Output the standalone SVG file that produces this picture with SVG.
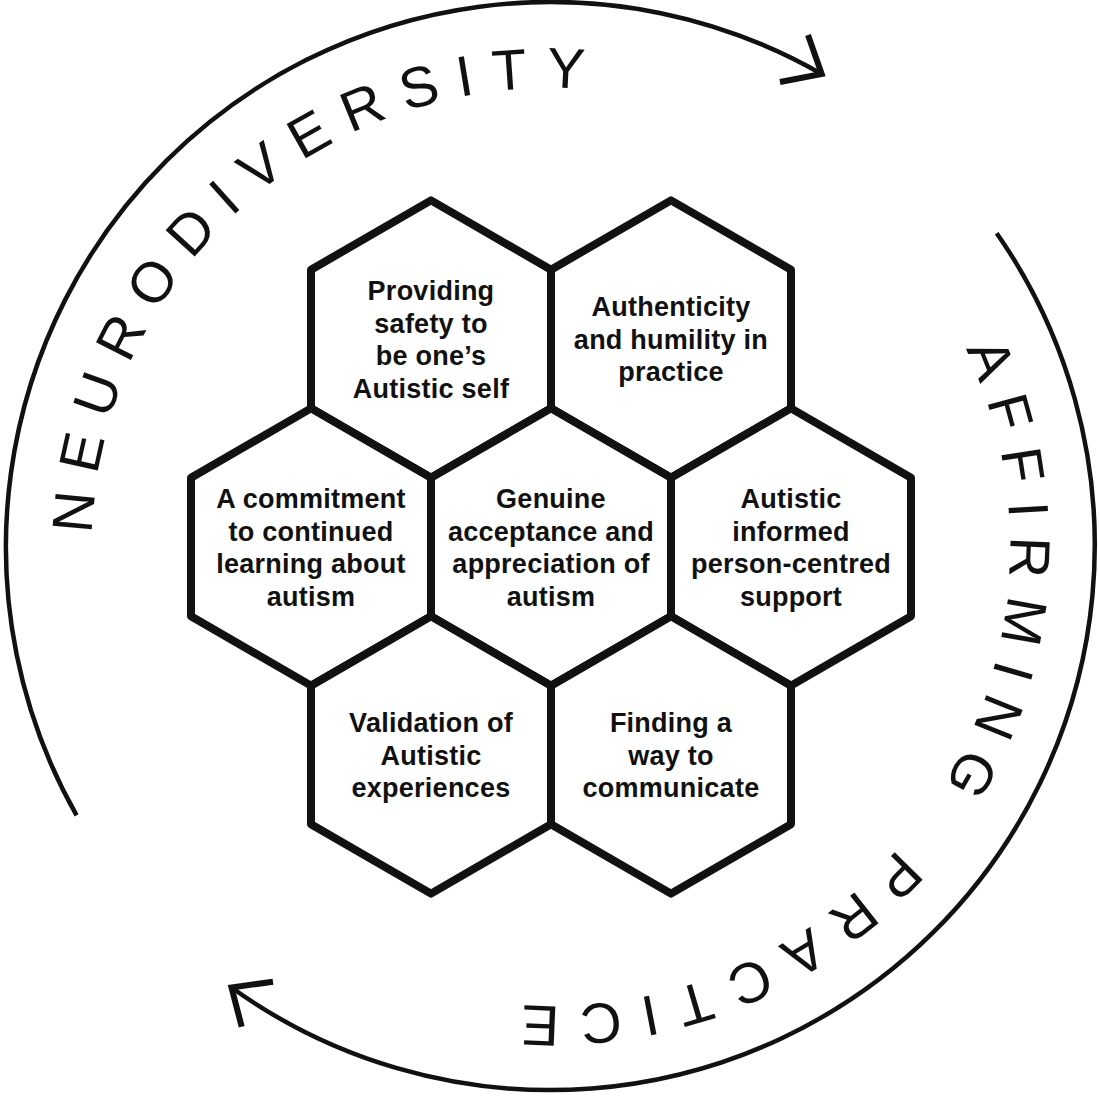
<svg xmlns="http://www.w3.org/2000/svg" xmlns:xlink="http://www.w3.org/1999/xlink" width="1100" height="1100" viewBox="0 0 1100 1100">
  <style>
    .hex { fill: #ffffff; stroke: #111111; stroke-width: 8; stroke-linejoin: round; }
    .ht { font-family: "Liberation Sans", Arial, sans-serif; font-weight: bold; font-size: 27px; letter-spacing: 0.25px; fill: #111111; text-anchor: middle; }
    .ring { font-family: "Liberation Sans", Arial, sans-serif; font-size: 57px; fill: #111111; }
    .arc { fill: none; stroke: #111111; stroke-width: 4.5; stroke-linecap: butt; }
    .head { fill: none; stroke: #111111; stroke-width: 6; stroke-linejoin: miter; stroke-linecap: butt; }
  </style>
  <defs>
    <path id="ringPath" d="M 226.4 871.6 A 459 459 0 1 1 875.6 222.4 A 459 459 0 1 1 226.4 871.6"/>
  </defs>
  <rect x="0" y="0" width="1100" height="1100" fill="#ffffff"/>

  <g id="connectors">
    <path class="arc" d="M 76.6 815.4 A 545 545 0 0 1 821.7 74.0"/>
    <path class="head" d="M 808 35 L 821.7 74 L 780 82"/>
    <path class="arc" d="M 996.7 233.2 A 545 545 0 0 1 231.5 987.5"/>
    <path class="head" d="M 273 981.7 L 231.5 987.5 L 241.7 1026.7"/>
  </g>

  <g id="ring-labels">
    <text class="ring" letter-spacing="18"><textPath xlink:href="#ringPath" href="#ringPath" startOffset="373.5">NEURODIVERSITY</textPath></text>
    <text class="ring" letter-spacing="17.5"><textPath xlink:href="#ringPath" href="#ringPath" startOffset="1597.7">AFFIRMING</textPath></text>
    <text class="ring" letter-spacing="19"><textPath xlink:href="#ringPath" href="#ringPath" startOffset="2130.9">PRACTICE</textPath></text>
  </g>

  <g id="node-safety">
    <polygon class="hex" points="431,200.4 551,269.7 551,408.3 431,477.6 311,408.3 311,269.7"/>
    <text class="ht" x="431" y="300"><tspan x="431">Providing</tspan><tspan x="431" dy="32.5">safety to</tspan><tspan x="431" dy="32.5">be one’s</tspan><tspan x="431" dy="32.5">Autistic self</tspan></text>
  </g>

  <g id="node-authenticity">
    <polygon class="hex" points="671,200.4 791,269.7 791,408.3 671,477.6 551,408.3 551,269.7"/>
    <text class="ht" x="671" y="316"><tspan x="671">Authenticity</tspan><tspan x="671" dy="32.5">and humility in</tspan><tspan x="671" dy="32.5">practice</tspan></text>
  </g>

  <g id="node-learning">
    <polygon class="hex" points="311,408.4 431,477.7 431,616.3 311,685.6 191,616.3 191,477.7"/>
    <text class="ht" x="311" y="508"><tspan x="311">A commitment</tspan><tspan x="311" dy="32.5">to continued</tspan><tspan x="311" dy="32.5">learning about</tspan><tspan x="311" dy="32.5">autism</tspan></text>
  </g>

  <g id="node-acceptance">
    <polygon class="hex" points="551,408.4 671,477.7 671,616.3 551,685.6 431,616.3 431,477.7"/>
    <text class="ht" x="551" y="508"><tspan x="551">Genuine</tspan><tspan x="551" dy="32.5">acceptance and</tspan><tspan x="551" dy="32.5">appreciation of</tspan><tspan x="551" dy="32.5">autism</tspan></text>
  </g>

  <g id="node-support">
    <polygon class="hex" points="791,408.4 911,477.7 911,616.3 791,685.6 671,616.3 671,477.7"/>
    <text class="ht" x="791" y="508"><tspan x="791">Autistic</tspan><tspan x="791" dy="32.5">informed</tspan><tspan x="791" dy="32.5">person-centred</tspan><tspan x="791" dy="32.5">support</tspan></text>
  </g>

  <g id="node-validation">
    <polygon class="hex" points="431,616.4 551,685.7 551,824.3 431,893.6 311,824.3 311,685.7"/>
    <text class="ht" x="431" y="732"><tspan x="431">Validation of</tspan><tspan x="431" dy="32.5">Autistic</tspan><tspan x="431" dy="32.5">experiences</tspan></text>
  </g>

  <g id="node-communicate">
    <polygon class="hex" points="671,616.4 791,685.7 791,824.3 671,893.6 551,824.3 551,685.7"/>
    <text class="ht" x="671" y="732"><tspan x="671">Finding a</tspan><tspan x="671" dy="32.5">way to</tspan><tspan x="671" dy="32.5">communicate</tspan></text>
  </g>
</svg>
